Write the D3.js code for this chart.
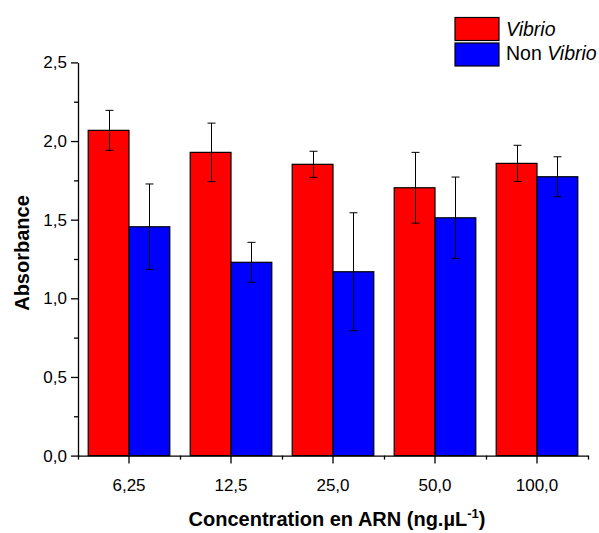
<!DOCTYPE html>
<html>
<head>
<meta charset="utf-8">
<script src="https://cdn.jsdelivr.net/npm/d3@7"></script>
<style>
  html, body { margin: 0; padding: 0; background: #fff; }
  svg { display: block; font-family: "Liberation Sans", Arial, sans-serif; }
</style>
</head>
<body>
<svg id="chart" width="599" height="533"></svg>
<script>
const categories = ["6,25", "12,5", "25,0", "50,0", "100,0"];
const vibrio = [2.068, 1.928, 1.852, 1.703, 1.858];
const vibrioErr = [0.127, 0.186, 0.083, 0.225, 0.115];
const nonVibrio = [1.455, 1.229, 1.169, 1.512, 1.773];
const nonVibrioErr = [0.272, 0.127, 0.375, 0.259, 0.127];
const yTicks = [0, 0.5, 1.0, 1.5, 2.0, 2.5];
const yMinorTicks = [0.25, 0.75, 1.25, 1.75, 2.25];
const seriesNames = ["Vibrio", "Non Vibrio"];
const colors = ["#ff0000", "#0000ff"];

const svg = d3.select("#chart");
const plotLeft = 78, plotRight = 588, plotTop = 62.4, plotBottom = 455.6;
const FONT = "'Liberation Sans', Arial, sans-serif";

const x = d3.scaleBand().domain(categories).range([plotLeft, plotRight]).padding(0);
const y = d3.scaleLinear().domain([0, 2.5]).range([plotBottom, plotTop]);
const bw = x.bandwidth() * 0.4;

const series = [
  { name: seriesNames[0], values: vibrio, errs: vibrioErr, color: colors[0], off: -bw },
  { name: seriesNames[1], values: nonVibrio, errs: nonVibrioErr, color: colors[1], off: 0 }
];

// bars
series.forEach(s => {
  const g = svg.append("g");
  g.selectAll("rect").data(categories).join("rect")
    .attr("x", (c) => x(c) + x.bandwidth() / 2 + s.off)
    .attr("y", (c, i) => y(s.values[i]))
    .attr("width", bw)
    .attr("height", (c, i) => y(0) - y(s.values[i]))
    .attr("fill", s.color)
    .attr("stroke", "#000")
    .attr("stroke-width", 1.2);
});

// error bars
series.forEach(s => {
  const g = svg.append("g").attr("stroke", "#000").attr("stroke-width", 1);
  categories.forEach((c, i) => {
    const cx = Math.round(x(c) + x.bandwidth() / 2 + s.off + bw / 2) + 0.5;
    const y1 = y(s.values[i] + s.errs[i]);
    const y2 = y(s.values[i] - s.errs[i]);
    g.append("line").attr("x1", cx).attr("x2", cx).attr("y1", y1).attr("y2", y2);
    g.append("line").attr("x1", cx - 4).attr("x2", cx + 4).attr("y1", y1).attr("y2", y1);
    g.append("line").attr("x1", cx - 4).attr("x2", cx + 4).attr("y1", y2).attr("y2", y2);
  });
});

// y axis
const yAxis = d3.axisLeft(y).tickValues(yTicks).tickSize(7).tickSizeOuter(0)
  .tickFormat(d => d3.format(".1f")(d).replace(".", ","));
const gy = svg.append("g").attr("transform", `translate(${plotLeft},0)`).call(yAxis);
gy.selectAll("text").attr("font-size", 17).attr("fill", "#000").attr("x", -11)
  .style("font-family", FONT);
gy.selectAll("line, path").attr("stroke", "#000").attr("stroke-width", 1.3);
const gyMinor = svg.append("g").attr("transform", `translate(${plotLeft},0)`)
  .call(d3.axisLeft(y).tickValues(yMinorTicks).tickSize(4).tickSizeOuter(0).tickFormat(""));
gyMinor.select("path").remove();
gyMinor.selectAll("line").attr("stroke", "#000").attr("stroke-width", 1.3);

// x axis
const xAxis = d3.axisBottom(x).tickSize(8).tickSizeOuter(0);
const gx = svg.append("g").attr("transform", `translate(0,${plotBottom})`).call(xAxis);
gx.selectAll("text").attr("font-size", 17).attr("fill", "#000").attr("y", 23)
  .style("font-family", FONT);
gx.selectAll("line, path").attr("stroke", "#000").attr("stroke-width", 1.3);
const xMinor = d3.scaleLinear().domain([0, categories.length]).range([plotLeft, plotRight]);
const gxMinor = svg.append("g").attr("transform", `translate(0,${plotBottom})`)
  .call(d3.axisBottom(xMinor).tickValues(d3.range(categories.length + 1)).tickSize(4).tickSizeOuter(0).tickFormat(""));
gxMinor.select("path").remove();
gxMinor.selectAll("line").attr("stroke", "#000").attr("stroke-width", 1.3);

// axis titles
svg.append("text")
  .attr("transform", `translate(29,${(plotTop + plotBottom) / 2 - 6}) rotate(-90)`)
  .attr("text-anchor", "middle")
  .attr("font-size", 20).attr("font-weight", "bold")
  .text("Absorbance");

const xt = svg.append("text")
  .attr("x", (plotLeft + plotRight) / 2 + 4).attr("y", 526)
  .attr("text-anchor", "middle")
  .attr("font-size", 20).attr("font-weight", "bold");
xt.append("tspan").text("Concentration en ARN (ng.µL");
xt.append("tspan").attr("dy", -8).attr("font-size", 13).text("-1");
xt.append("tspan").attr("dy", 8).text(")");

// legend
const lg = svg.append("g");
series.forEach((s, i) => {
  lg.append("rect").attr("x", 455).attr("y", 17.5 + i * 25.5).attr("width", 44).attr("height", 23)
    .attr("fill", s.color).attr("stroke", "#000").attr("stroke-width", 1.2);
  const t = lg.append("text").attr("x", 506).attr("y", 36 + i * 24).attr("font-size", 19.5);
  if (s.name.startsWith("Non ")) {
    t.append("tspan").text("Non ");
    t.append("tspan").attr("font-style", "italic").text("Vibrio");
  } else {
    t.append("tspan").attr("font-style", "italic").text(s.name);
  }
});
</script>
</body>
</html>
